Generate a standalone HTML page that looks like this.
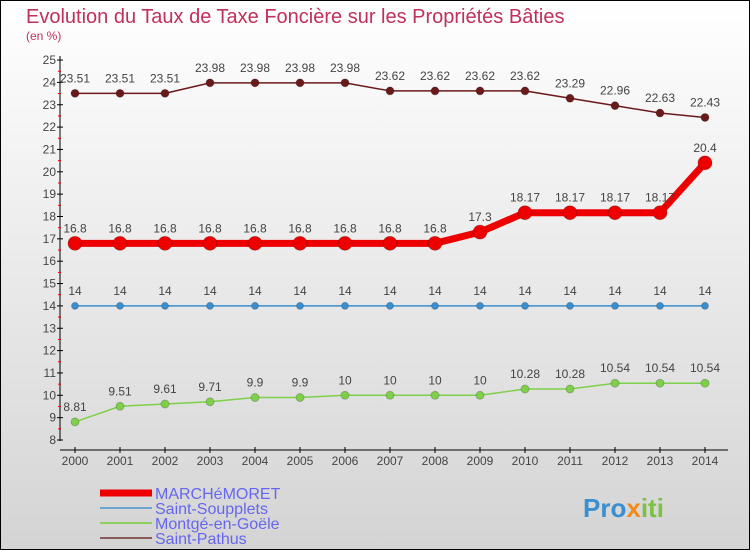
<!DOCTYPE html>
<html><head><meta charset="utf-8"><style>
body{margin:0;width:750px;height:550px;overflow:hidden;font-family:"Liberation Sans",sans-serif}
</style></head><body>
<svg width="750" height="550" xmlns="http://www.w3.org/2000/svg">
<defs><linearGradient id="bg" x1="0" y1="0" x2="0" y2="1"><stop offset="0" stop-color="#ffffff"/><stop offset="1" stop-color="#d4d4d4"/></linearGradient></defs>
<rect x="0.5" y="0.5" width="749" height="549" fill="url(#bg)" stroke="#000"/>
<text x="26" y="23" font-size="20" fill="#c0305a">Evolution du Taux de Taxe Foncière sur les Propriétés Bâties</text>
<text x="26" y="40" font-size="12" fill="#c0305a">(en %)</text>
<g id="axes"></g>
<g id="series"></g>
<g id="legend"></g>
<text x="583" y="517" font-size="26" font-weight="bold" fill="#3a8fd0">Pro<tspan fill="#f08a1c">x</tspan><tspan fill="#7cc242">iti</tspan></text>
</svg>
<script>
const years=[2000,2001,2002,2003,2004,2005,2006,2007,2008,2009,2010,2011,2012,2013,2014];
const yTicks=[8,9,10,11,12,13,14,15,16,17,18,19,20,21,22,23,24,25];
const marche=[16.8,16.8,16.8,16.8,16.8,16.8,16.8,16.8,16.8,17.3,18.17,18.17,18.17,18.17,20.4];
const soupplets=[14,14,14,14,14,14,14,14,14,14,14,14,14,14,14];
const montge=[8.81,9.51,9.61,9.71,9.9,9.9,10,10,10,10,10.28,10.28,10.54,10.54,10.54];
const pathus=[23.51,23.51,23.51,23.98,23.98,23.98,23.98,23.62,23.62,23.62,23.62,23.29,22.96,22.63,22.43];
const NS="http://www.w3.org/2000/svg";
const xs=i=>75+i*45;
const ys=v=>440-(v-8)*22.35;
function mk(tag,attrs,parent){const e=document.createElementNS(NS,tag);for(const k in attrs)e.setAttribute(k,attrs[k]);parent.appendChild(e);return e;}
const ax=document.getElementById('axes');
let l=mk('line',{x1:60,y1:56,x2:60,y2:441,stroke:'#000'},ax);


l=mk('line',{x1:60,y1:450,x2:728,y2:450,stroke:'#000'},ax);


yTicks.forEach(v=>{
 let t=mk('line',{x1:57,y1:ys(v),x2:63,y2:ys(v),stroke:'#000'},ax);
 
 
 if(v<25){let m=mk('line',{x1:58,y1:ys(v+0.5),x2:61,y2:ys(v+0.5),stroke:'#e00'},ax);
 
 }
 let tx=mk('text',{x:56,y:ys(v)+4,'font-size':12,'text-anchor':'end',fill:'#444'},ax);
 tx.textContent=v;
 
 
});
years.forEach((y,i)=>{
 let t=mk('line',{x1:xs(i),y1:447,x2:xs(i),y2:453,stroke:'#000'},ax);
 
 
 let tx=mk('text',{x:xs(i),y:465,'font-size':12,'text-anchor':'middle',fill:'#444'},ax);
 tx.textContent=y;
 
 
});
const sg=document.getElementById('series');
function drawSeries(vals,color,w,r,name){
 const g=mk('g',{},sg);
 
 
 const pts=vals.map((v,i)=>xs(i)+','+ys(v)).join(' ');
 const pl=mk('polyline',{points:pts,fill:'none',stroke:color,'stroke-width':w,'stroke-linejoin':'round'},g);
 
 
 vals.forEach((v,i)=>{
  const c=mk('circle',{cx:xs(i),cy:ys(v),r:r,fill:color,stroke:'#0003'},g);
  
  
  const t=mk('text',{x:xs(i),y:ys(v)-11,'font-size':12,'text-anchor':'middle',fill:'#444'},g);
  t.textContent=v;
  
  
 });
}
drawSeries(pathus,'#6b1a1a',1.5,4,'saint-pathus');
drawSeries(soupplets,'#3a8fd0',1.5,3.5,'saint-soupplets');
drawSeries(montge,'#7ed04a',1.5,4,'montge-en-goele');
drawSeries(marche,'#ee0000',7,7,'marchemoret');
const lg=document.getElementById('legend');
[['MARCHéMORET','#ee0000',7],['Saint-Soupplets','#6aa6d0',2],['Montgé-en-Goële','#8ed060',2],['Saint-Pathus','#8a5a5a',2]].forEach((e,i)=>{
 const y=493+i*15;
 const ln=mk('line',{x1:100,y1:y,x2:152,y2:y,stroke:e[1],'stroke-width':e[2]},lg);
 
 
 const t=mk('text',{x:155,y:y+6,'font-size':16,fill:'#6666ee'},lg);
 t.textContent=e[0];
 
 
});
</script>
</body></html>
